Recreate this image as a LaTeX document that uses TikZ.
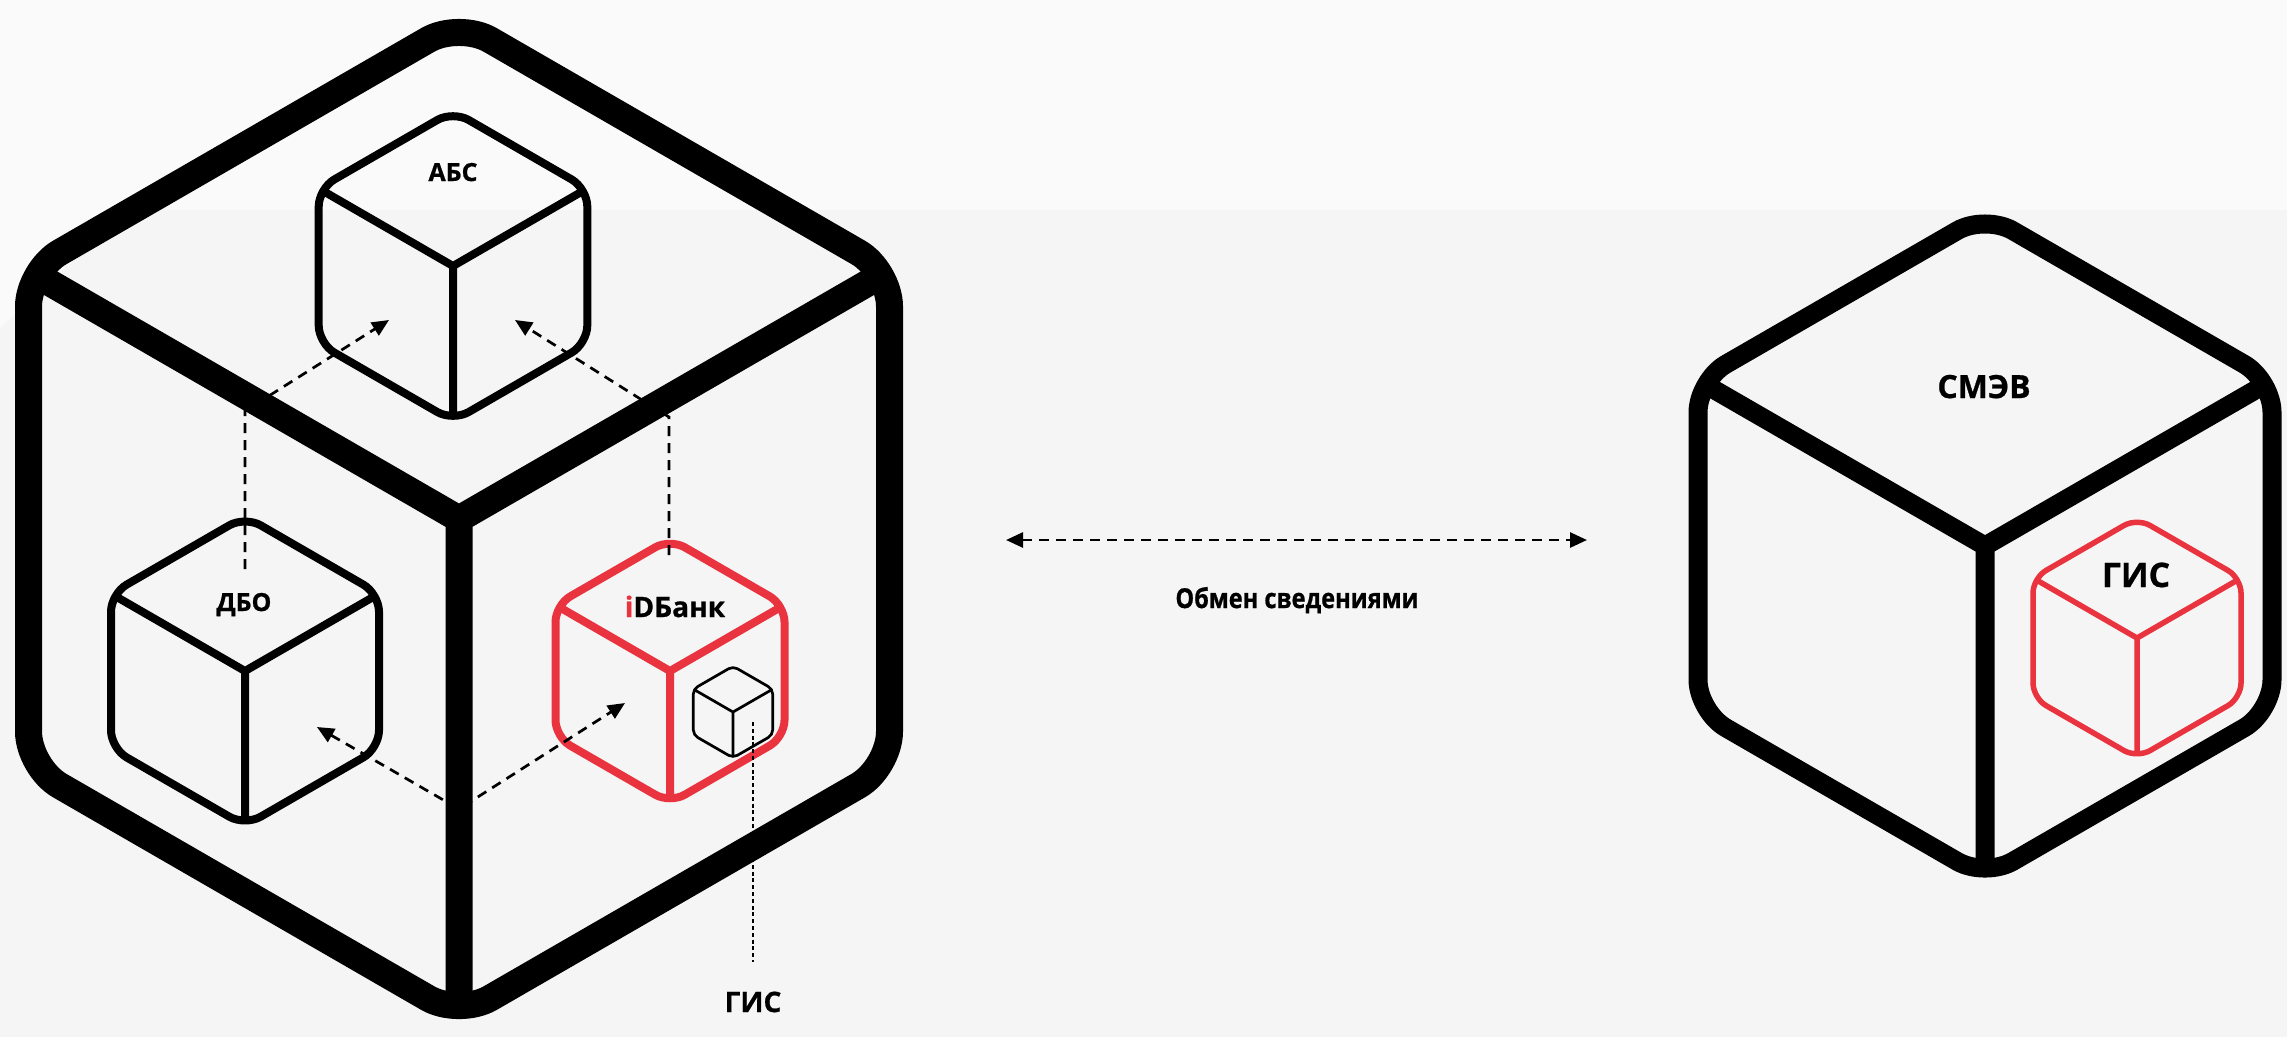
\documentclass[tikz,border=0pt]{standalone}
\usepackage{fontspec}
\setmainfont{Open Sans}[BoldFeatures={FakeBold=0.8}]
\newfontfamily\narrowfont{Open Sans}[FakeStretch=0.86, BoldFeatures={FakeBold=0.8}]
\usetikzlibrary{arrows.meta}

\definecolor{idred}{RGB}{233,51,62}
\definecolor{paper}{RGB}{245,245,245}
\definecolor{paperlight}{RGB}{250,250,250}

\tikzset{
  pics/isocube/.style 2 args={code={
    \pgfmathsetmacro\cubeh{#1*0.57735}
    \pgfmathsetmacro\cubet{0.4*#2}
    \draw[rounded corners=#2*0.1mm] ({-#1/2},{-1.5*\cubeh}) -- (-#1,-\cubeh) -- (-#1,\cubeh)
        -- (0,{2*\cubeh}) -- (#1,\cubeh) -- (#1,-\cubeh) -- (0,{-2*\cubeh}) -- cycle;
    \draw ({-#1+0.866*\cubet},{-\cubeh+0.5*\cubet}) -- (0,0) -- ({#1-0.866*\cubet},{-\cubeh+0.5*\cubet})
        (0,0) -- (0,{2*\cubeh-\cubet});
  }}
}

\begin{document}
\begin{tikzpicture}[x=0.1mm, y=-0.1mm,
                    line join=miter,
                    >={Triangle[length=1.7mm,width=1.5mm]}]
    \tikzstyle{bigcube}=[line width=2.7mm]
    \tikzstyle{midcube}=[line width=1.9mm]
    \tikzstyle{smallcube}=[line width=0.8mm]
    \tikzstyle{redcube}=[smallcube, color=idred]
    \tikzstyle{tinycube}=[line width=0.27mm]
    \tikzstyle{flow}=[line width=0.27mm, dash pattern=on 1mm off 0.7mm, ->]
    \tikzstyle{lead}=[line width=0.17mm, dash pattern=on 0.4mm off 0.28mm]
    \tikzstyle{caption}=[inner sep=0pt, anchor=base]

    % background
    \useasboundingbox (0,0) rectangle (2287,1037);
    \fill[paper] (0,0) rectangle (2287,1037);
    \fill[paperlight] (0,0) rectangle (2287,210);
    \fill[paperlight] (0,0) -- (357,0) -- (0,328) -- cycle;
    \fill[paperlight] (1500,210) -- (1690,0) -- (1850,0) -- (1660,210) -- cycle;

    % inner systems
    \pic[smallcube] at (453,266) {isocube={134.3}{18}};
    \pic[smallcube] at (245,671) {isocube={134}{18}};
    \pic[redcube] at (670,671) {isocube={114.5}{17}};
    \pic[tinycube] at (733,712) {isocube={39.7}{5}};

    % data flows
    \coordinate (dboUp) at (245,569);
    \coordinate (dboBend) at (245,411);
    \coordinate (absL) at (389,320);
    \coordinate (idbUp) at (669,555);
    \coordinate (idbBend) at (669,417);
    \coordinate (absR) at (515,320);
    \coordinate (dboR) at (317,727);
    \coordinate (vBottom) at (459,809);
    \coordinate (idbL) at (625,703);
    \coordinate (gisTop) at (753,722);
    \coordinate (gisEnd) at (753,962);

    \draw[flow] (dboUp) -- (dboBend) -- (absL);
    \draw[flow] (idbUp) -- (idbBend) -- (absR);
    \draw[flow, <->] (dboR) -- (vBottom) -- (idbL);
    \draw[lead] (gisTop) -- (gisEnd);

    % bank and smev
    \pic[bigcube] at (459,519) {isocube={430.5}{36}};
    \pic[midcube] at (1985,546) {isocube={287}{32}};
    \pic[redcube, line width=0.55mm] at (2137,638) {isocube={104}{15}};

    \coordinate (exL) at (1006,540);
    \coordinate (exR) at (1587,540);
    \draw[flow, <->] (exL) -- (exR);

    % labels
    \node[caption, font=\bfseries\fontsize{7.1}{8}\selectfont] (abs) at (453,181) {АБС};
    \node[caption, font=\bfseries\fontsize{7.1}{8}\selectfont] (dbo) at (244,611) {ДБО};
    \node[caption, font=\bfseries\fontsize{8}{9}\selectfont] (idb) at (675,617) {{\color{idred}i}DБанк};
    \node[caption, font=\bfseries\fontsize{9.1}{10}\selectfont] (smev) at (1984,398) {СМЭВ};
    \node[caption, font=\bfseries\fontsize{9.6}{10}\selectfont] (gisin) at (2136,587) {ГИС};
    \node[caption, font=\bfseries\fontsize{8}{9}\selectfont] (gisout) at (753,1012) {ГИС};
    \node[caption, font=\narrowfont\bfseries\fontsize{7.8}{9}\selectfont] (exch) at (1297,608) {Обмен сведениями};
\end{tikzpicture}
\end{document}
